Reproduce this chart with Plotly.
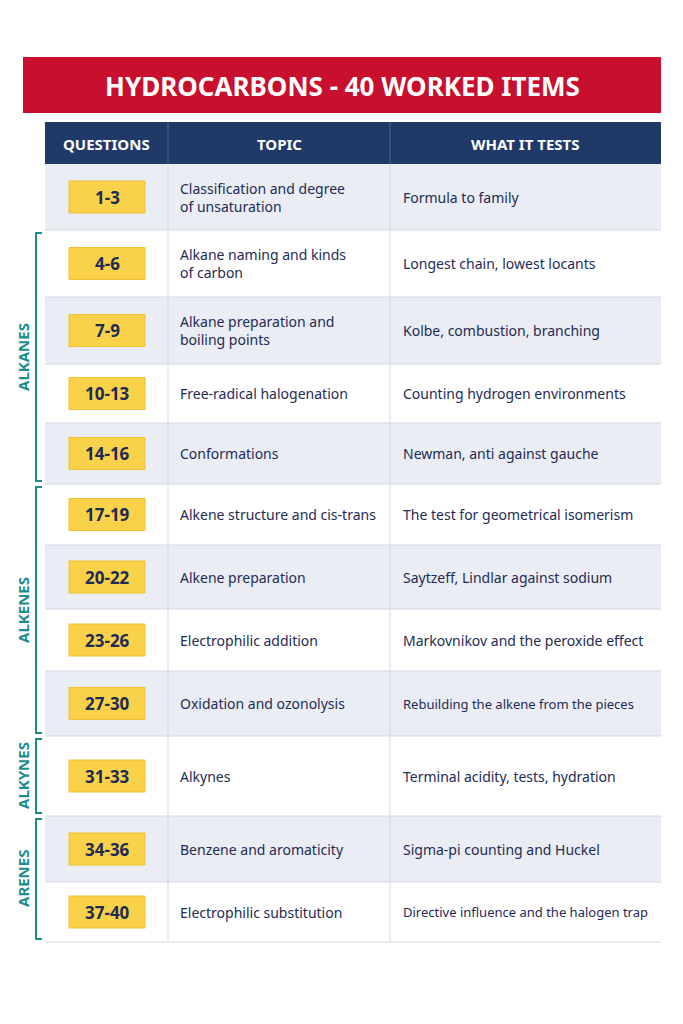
import plotly.graph_objects as go

title = "HYDROCARBONS - 40 WORKED ITEMS"
headers = ["QUESTIONS", "TOPIC", "WHAT IT TESTS"]
questions = ["1-3", "4-6", "7-9", "10-13", "14-16", "17-19", "20-22", "23-26", "27-30", "31-33", "34-36", "37-40"]
topics = ["Classification and degree<br>of unsaturation", "Alkane naming and kinds<br>of carbon",
          "Alkane preparation and<br>boiling points", "Free-radical halogenation", "Conformations",
          "Alkene structure and cis-trans", "Alkene preparation", "Electrophilic addition",
          "Oxidation and ozonolysis", "Alkynes", "Benzene and aromaticity", "Electrophilic substitution"]
tests = ["Formula to family", "Longest chain, lowest locants", "Kolbe, combustion, branching",
         "Counting hydrogen environments", "Newman, anti against gauche", "The test for geometrical isomerism",
         "Saytzeff, Lindlar against sodium", "Markovnikov and the peroxide effect",
         "Rebuilding the alkene from the pieces", "Terminal acidity, tests, hydration",
         "Sigma-pi counting and Huckel", "Directive influence and the halogen trap"]
groups = ["ALKANES", "ALKENES", "ALKYNES", "ARENES"]
group_rows = [(1, 4), (5, 8), (9, 9), (10, 11)]

row_edges = [164, 230, 297, 364, 423, 484, 545, 609, 671, 736, 816, 882, 942]
col_edges = [45, 168, 390, 661]
NAVY = "#1f3a68"; TEXT = "#1e2b55"; TEAL = "#1c8c8c"; RED = "#c8102e"
FONT = "Noto Sans"

shapes, ann = [], []
shapes.append(dict(type="rect", x0=23, x1=661, y0=57, y1=113, fillcolor=RED, line_width=0, layer="below"))
ann.append(dict(x=342, y=86, text=f"<b>{title}</b>", showarrow=False, font=dict(family=FONT, size=26, color="white")))
shapes.append(dict(type="rect", x0=45, x1=661, y0=122, y1=164, fillcolor=NAVY, line_width=0, layer="below"))
for i, h in enumerate(headers):
    ann.append(dict(x=(col_edges[i]+col_edges[i+1])/2, y=144, text=f"<b>{h}</b>", showarrow=False,
                    font=dict(family=FONT, size=15, color="white")))
for c in col_edges[1:3]:
    shapes.append(dict(type="line", x0=c, x1=c, y0=122, y1=164, line=dict(color="#4d6590", width=1)))

for r in range(len(questions)):
    y0, y1 = row_edges[r], row_edges[r+1]; yc = (y0+y1)/2
    fill = "#eaedf3" if r % 2 == 0 else "white"
    shapes.append(dict(type="rect", x0=45, x1=661, y0=y0, y1=y1, fillcolor=fill, line_width=0, layer="below"))
    shapes.append(dict(type="line", x0=45, x1=661, y0=y1, y1=y1, line=dict(color="#d3d8e2", width=1)))
    for c in col_edges[1:3]:
        shapes.append(dict(type="line", x0=c, x1=c, y0=y0, y1=y1, line=dict(color="#d3d8e2", width=1)))
    shapes.append(dict(type="rect", x0=69, x1=145, y0=yc-16, y1=yc+16, fillcolor="#f9d24a",
                       line=dict(color="#f0c030", width=1), layer="above"))
    ann.append(dict(x=107, y=yc, text=f"<b>{questions[r]}</b>", showarrow=False, font=dict(family=FONT, size=17, color=TEXT)))
    ann.append(dict(x=178, y=yc, text=topics[r], showarrow=False, xanchor="left", align="left",
                    font=dict(family=FONT, size=14, color=TEXT)))
    ann.append(dict(x=401, y=yc, text=tests[r], showarrow=False, xanchor="left", align="left",
                    font=dict(family=FONT, size=14 if len(tests[r]) < 36 else 13, color=TEXT)))

for g, (a, b) in zip(groups, group_rows):
    y0, y1 = row_edges[a]+3, row_edges[b+1]-3
    shapes.append(dict(type="path", path=f"M 42 {y0} L 36 {y0} L 36 {y1} L 42 {y1}",
                       line=dict(color=TEAL, width=2)))
    ann.append(dict(x=23, y=(y0+y1)/2, text=f"<b>{g}</b>", showarrow=False, textangle=-90,
                    font=dict(family=FONT, size=15, color=TEAL)))

fig = go.Figure()
fig.update_layout(width=683, height=1024, margin=dict(l=0, r=0, t=0, b=0), paper_bgcolor="white",
                  plot_bgcolor="white", shapes=shapes, annotations=ann, showlegend=False,
                  xaxis=dict(range=[8, 691], visible=False, fixedrange=True),
                  yaxis=dict(range=[1032, 8], visible=False, fixedrange=True))
fig.write_html("out.html")
